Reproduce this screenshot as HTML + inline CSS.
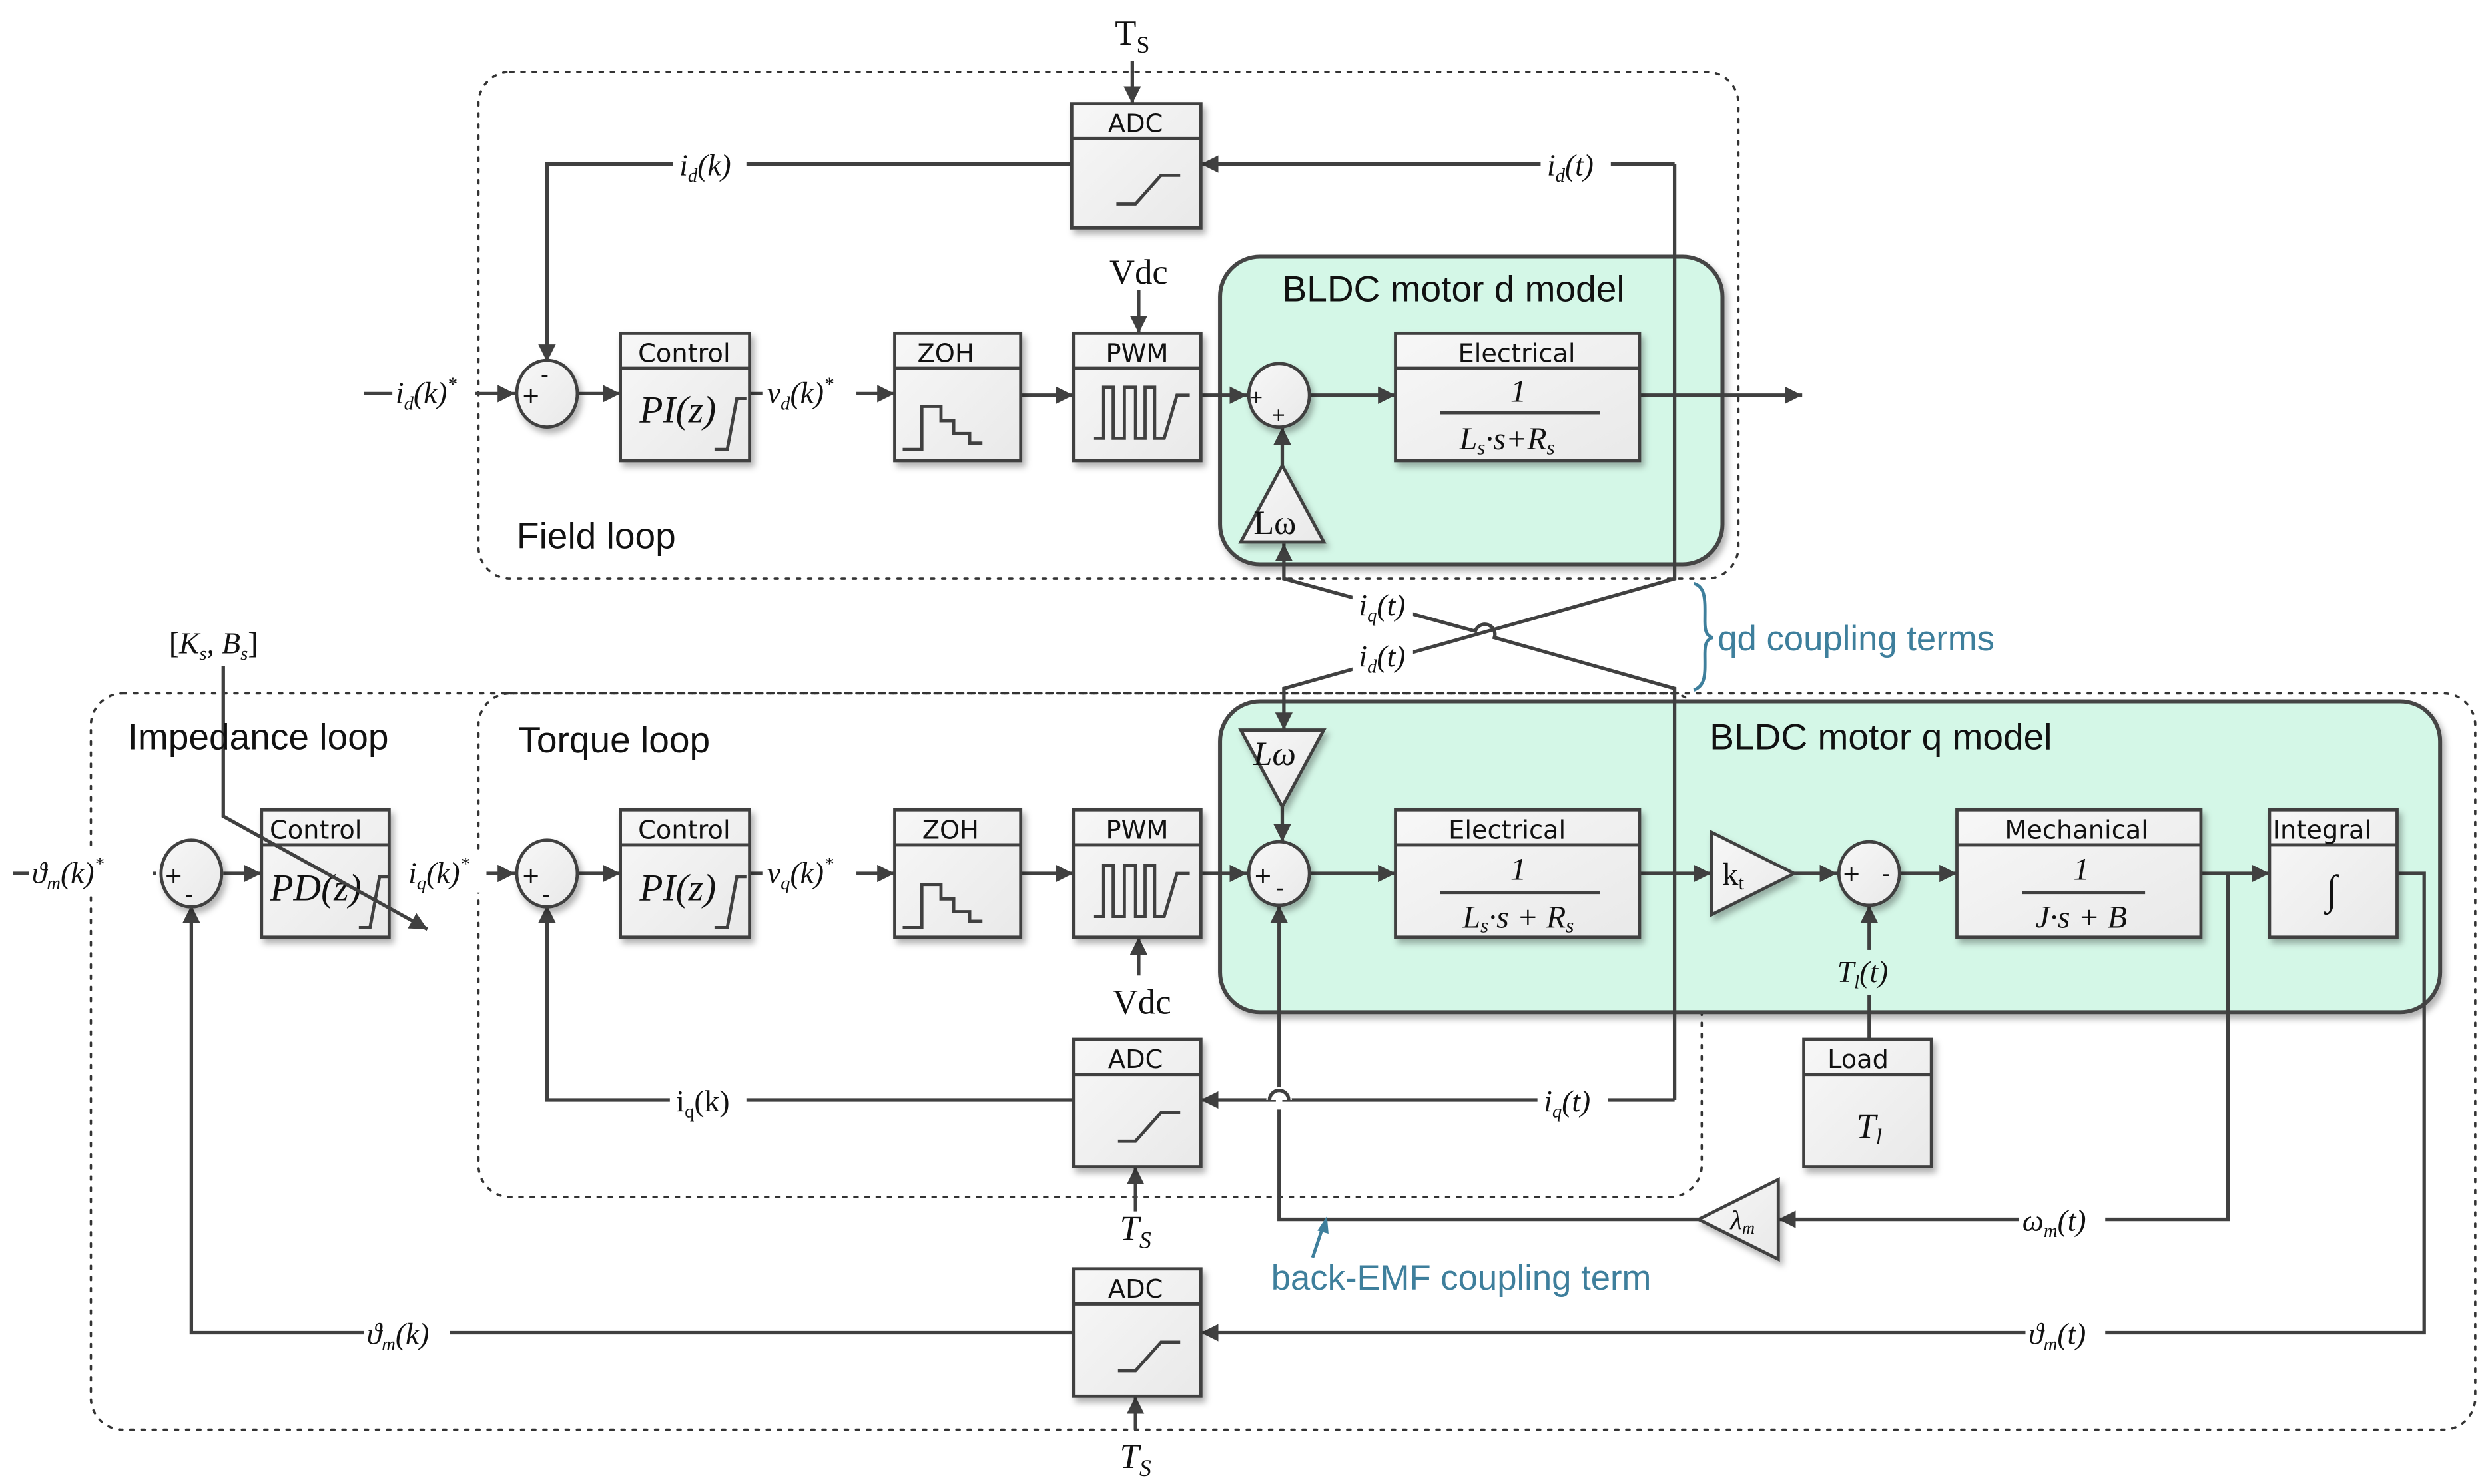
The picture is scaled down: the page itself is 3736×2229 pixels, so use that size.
<!DOCTYPE html>
<html><head><meta charset="utf-8"><style>
html,body{margin:0;padding:0;background:#fff;}
svg{display:block;}
.m{font-family:"Liberation Serif",serif;font-style:italic;}
.s{font-family:"DejaVu Sans","Liberation Sans",sans-serif;}
</style></head><body>
<svg width="3736" height="2229" viewBox="0 0 1560 931" preserveAspectRatio="none" xmlns="http://www.w3.org/2000/svg">
<defs>
<marker id="a" viewBox="0 0 10 10" refX="10" refY="5" markerWidth="5" markerHeight="5" orient="auto-start-reverse"><path d="M0,0L10,5L0,10z" fill="#404040"/></marker>
<linearGradient id="g" x1="0" y1="0" x2="1" y2="1"><stop offset="0" stop-color="#f7f7f7"/><stop offset="1" stop-color="#e9e9e9"/></linearGradient>
<filter id="sh" x="-20%" y="-20%" width="140%" height="140%"><feDropShadow dx="2" dy="3" stdDeviation="2" flood-color="#000" flood-opacity="0.3"/></filter>
</defs>
<g fill="none" stroke="#333" stroke-width="1.5" stroke-dasharray="2,5" stroke-linecap="round">
<rect x="300" y="45" width="790" height="318" rx="20"/>
<rect x="57" y="435" width="1495" height="462" rx="20"/>
<rect x="300" y="435" width="767" height="316" rx="20"/>
</g>
<rect x="765" y="161" width="315" height="193" rx="25" fill="#d4f7e7" stroke="#444" stroke-width="2.5" filter="url(#sh)"/>
<rect x="765" y="440" width="765" height="195" rx="25" fill="#d4f7e7" stroke="#444" stroke-width="2.5" filter="url(#sh)"/>

<g fill="none" stroke="#404040" stroke-width="2.2">
<path d="M1050,103H753" marker-end="url(#a)"/>
<path d="M672,103H343V227" marker-end="url(#a)"/>
<path d="M228,247H323" marker-end="url(#a)"/>
<path d="M363,247H389" marker-end="url(#a)"/>
<path d="M470,247H478M537,247H561" marker-end="url(#a)"/>
<path d="M640,248H673" marker-end="url(#a)"/>
<path d="M753,248H782" marker-end="url(#a)"/>
<path d="M822,248H875" marker-end="url(#a)"/>
<path d="M1028,248H1130" marker-end="url(#a)"/>
<path d="M710,38V65" marker-end="url(#a)"/>
<path d="M714,182V209" marker-end="url(#a)"/>
<path d="M804,292V268" marker-end="url(#a)"/>
<path d="M1050,103V363L805,432V458" marker-end="url(#a)"/>
<path d="M1050,690V432L937,400 A6,6 0 0 0 925,396 L805,363V341" marker-end="url(#a)"/>
<path d="M8,548H98" marker-end="url(#a)"/>
<path d="M140,548H164" marker-end="url(#a)"/>
<path d="M305,548H323" marker-end="url(#a)"/>
<path d="M363,548H389" marker-end="url(#a)"/>
<path d="M470,548H478M537,548H561" marker-end="url(#a)"/>
<path d="M640,548H673" marker-end="url(#a)"/>
<path d="M753,548H782" marker-end="url(#a)"/>
<path d="M804,506V528" marker-end="url(#a)"/>
<path d="M822,548H875" marker-end="url(#a)"/>
<path d="M1028,548H1073" marker-end="url(#a)"/>
<path d="M1125,548H1152" marker-end="url(#a)"/>
<path d="M1192,548H1227" marker-end="url(#a)"/>
<path d="M1380,548H1423" marker-end="url(#a)"/>
<path d="M1397,548V765H1115" marker-end="url(#a)"/>
<path d="M1065,765H802V568" marker-end="url(#a)"/>
<path d="M1172,652V568" marker-end="url(#a)"/>
<path d="M1050,690H753" marker-end="url(#a)"/>
<path d="M673,690H343V568" marker-end="url(#a)"/>
<path d="M1503,548H1520V836H753" marker-end="url(#a)"/>
<path d="M673,836H120V568" marker-end="url(#a)"/>
<path d="M714,612V588" marker-end="url(#a)"/>
<path d="M712,760V732" marker-end="url(#a)"/>
<path d="M712,897V876" marker-end="url(#a)"/>
</g>
<path d="M796,690A6,6 0 0 1 808,690" fill="#fff" stroke="#fff" stroke-width="4"/>
<path d="M802,684V696" stroke="#fff" stroke-width="4"/>
<path d="M796,690A6,6 0 0 1 808,690" fill="none" stroke="#404040" stroke-width="2.2"/>

<g fill="url(#g)" stroke="#404040" stroke-width="2" filter="url(#sh)">
<ellipse cx="343" cy="247" rx="19" ry="21"/>
<ellipse cx="802" cy="248" rx="19" ry="20"/>
<ellipse cx="120" cy="548" rx="19" ry="21"/>
<ellipse cx="343" cy="548" rx="19" ry="21"/>
<ellipse cx="802" cy="548" rx="19" ry="20"/>
<ellipse cx="1172" cy="548" rx="19" ry="20"/>
<path d="M778,340H830L804,292z"/>
<path d="M778,458H830L804,506z"/>
<path d="M1073,522V574L1125,548z"/>
<path d="M1115,740V790L1065,765z"/>
</g>
<g class="s" font-size="14" fill="#111">
<text x="327" y="253">+</text><text x="339" y="240">-</text>
<text x="783" y="253" font-size="11">+</text><text x="797" y="264" font-size="11">+</text>
<text x="103" y="554">+</text><text x="116" y="566">-</text>
<text x="327" y="554">+</text><text x="340" y="566">-</text>
<text x="786" y="554">+</text><text x="800" y="562">-</text>
<text x="1155" y="553">+</text><text x="1180" y="553">-</text>
</g>
<text x="786" y="335" font-family="Liberation Serif,serif" font-size="21" fill="#111">Lω</text>
<text x="786" y="480" class="m" font-size="21" fill="#111">Lω</text>
<text x="1080" y="555" font-family="Liberation Serif,serif" font-size="20" fill="#111">k<tspan font-size="13" dy="3">t</tspan></text>
<text x="1085" y="771" class="m" font-size="17" fill="#111">λ<tspan font-size="11" dy="3">m</tspan></text>

<g fill="url(#g)" stroke="#404040" stroke-width="2" filter="url(#sh)">
<rect x="672" y="65" width="81" height="78"/>
<rect x="389" y="209" width="81" height="80"/>
<rect x="561" y="209" width="79" height="80"/>
<rect x="673" y="209" width="80" height="80"/>
<rect x="875" y="209" width="153" height="80"/>
<rect x="164" y="508" width="80" height="80"/>
<rect x="389" y="508" width="81" height="80"/>
<rect x="561" y="508" width="79" height="80"/>
<rect x="673" y="508" width="80" height="80"/>
<rect x="875" y="508" width="153" height="80"/>
<rect x="1227" y="508" width="153" height="80"/>
<rect x="1423" y="508" width="80" height="80"/>
<rect x="1131" y="652" width="80" height="80"/>
<rect x="673" y="652" width="80" height="80"/>
<rect x="673" y="796" width="80" height="80"/>
</g>
<g stroke="#404040" stroke-width="2">
<path d="M672,87H753M389,231H470M561,231H640M673,231H753M875,231H1028M164,530H244M389,530H470M561,530H640M673,530H753M875,530H1028M1227,530H1380M1423,530H1503M1131,674H1211M673,674H753M673,818H753"/>
</g>
<g class="s" font-size="16" fill="#111" text-anchor="middle">
<text x="712" y="83">ADC</text><text x="429" y="227">Control</text><text x="593" y="227">ZOH</text><text x="713" y="227">PWM</text>
<text x="951" y="227">Electrical</text><text x="198" y="526">Control</text><text x="429" y="526">Control</text><text x="596" y="526">ZOH</text>
<text x="713" y="526">PWM</text><text x="945" y="526">Electrical</text><text x="1302" y="526">Mechanical</text><text x="1456" y="526">Integral</text>
<text x="1165" y="670">Load</text><text x="712" y="670">ADC</text><text x="712" y="814">ADC</text>
</g>
<g fill="none" stroke="#404040" stroke-width="2">
<path d="M700,128H712L728,110H740"/><path d="M701,716H712L728,698H740"/><path d="M701,860H712L728,842H740"/>
<path d="M448,282H456L462,250H468"/><path d="M448,582H456L462,550H468"/><path d="M225,582H232L238,550H244"/>
<path d="M566,282H578V255H590V264H598V272H608V278H616"/><path d="M566,582H578V555H590V564H598V572H608V578H616"/>
<path d="M686,275H692V243H698V275H705V243H712V275H718V243H724V275H730L738,248H746"/>
<path d="M686,575H692V543H698V575H705V543H712V575H718V543H724V575H730L738,548H746"/>
<path d="M903,259H1003M903,560H1003M1268,560H1345"/>
</g>
<g class="m" fill="#111" text-anchor="middle">
<text x="425" y="265" font-size="24">PI(z)</text><text x="425" y="565" font-size="24">PI(z)</text><text x="198" y="565" font-size="24">PD(z)</text>
<text x="952" y="252" font-size="20">1</text><text x="945" y="282" font-size="20">L<tspan font-size="13" dy="3">s</tspan><tspan dy="-3">·s+R</tspan><tspan font-size="13" dy="3">s</tspan></text>
<text x="952" y="552" font-size="20">1</text><text x="952" y="582" font-size="20">L<tspan font-size="13" dy="3">s</tspan><tspan dy="-3">·s + R</tspan><tspan font-size="13" dy="3">s</tspan></text>
<text x="1305" y="552" font-size="20">1</text><text x="1305" y="582" font-size="20">J·s + B</text>
<text x="1462" y="567" font-size="26">∫</text>
<text x="1172" y="714" font-size="22">T<tspan font-size="14" dy="4">l</tspan></text>
</g>
<path d="M140,418V512L268,583" fill="none" stroke="#404040" stroke-width="2.2" marker-end="url(#a)"/>
<g class="m" fill="#111" font-size="19">
<rect x="422" y="90" width="46" height="26" fill="#fff"/><text x="426" y="110">i<tspan font-size="12" dy="4">d</tspan><tspan dy="-4">(k)</tspan></text>
<rect x="966" y="90" width="44" height="26" fill="#fff"/><text x="970" y="110">i<tspan font-size="12" dy="4">d</tspan><tspan dy="-4">(t)</tspan></text>
<rect x="246" y="233" width="52" height="26" fill="#fff"/><text x="248" y="253">i<tspan font-size="12" dy="4">d</tspan><tspan dy="-4">(k)</tspan><tspan font-size="12" dy="-8">*</tspan></text>
<text x="481" y="253">v<tspan font-size="12" dy="4">d</tspan><tspan dy="-4">(k)</tspan><tspan font-size="12" dy="-8">*</tspan></text>
<text x="481" y="554">v<tspan font-size="12" dy="4">q</tspan><tspan dy="-4">(k)</tspan><tspan font-size="12" dy="-8">*</tspan></text>
<rect x="255" y="534" width="50" height="26" fill="#fff"/><text x="256" y="554">i<tspan font-size="12" dy="4">q</tspan><tspan dy="-4">(k)</tspan><tspan font-size="12" dy="-8">*</tspan></text>
<rect x="18" y="534" width="78" height="26" fill="#fff"/><text x="20" y="554">ϑ<tspan font-size="12" dy="4">m</tspan><tspan dy="-4">(k)</tspan><tspan font-size="12" dy="-8">*</tspan></text>
<rect x="848" y="366" width="38" height="24" fill="#fff"/><text x="852" y="386">i<tspan font-size="12" dy="4">q</tspan><tspan dy="-4">(t)</tspan></text>
<rect x="848" y="400" width="38" height="24" fill="#fff"/><text x="852" y="418">i<tspan font-size="12" dy="4">d</tspan><tspan dy="-4">(t)</tspan></text>
<rect x="420" y="677" width="48" height="26" fill="#fff"/><text x="424" y="697" font-style="normal">i<tspan font-size="12" dy="4">q</tspan><tspan dy="-4">(k)</tspan></text>
<rect x="964" y="677" width="44" height="26" fill="#fff"/><text x="968" y="697">i<tspan font-size="12" dy="4">q</tspan><tspan dy="-4">(t)</tspan></text>
<rect x="1266" y="752" width="54" height="26" fill="#fff"/><text x="1268" y="772">ω<tspan font-size="12" dy="4">m</tspan><tspan dy="-4">(t)</tspan></text>
<rect x="228" y="823" width="54" height="26" fill="#fff"/><text x="230" y="843">ϑ<tspan font-size="12" dy="4">m</tspan><tspan dy="-4">(k)</tspan></text>
<rect x="1270" y="823" width="50" height="26" fill="#fff"/><text x="1272" y="843">ϑ<tspan font-size="12" dy="4">m</tspan><tspan dy="-4">(t)</tspan></text>
<rect x="1150" y="596" width="46" height="28" fill="#d4f7e7" stroke="none"/><text x="1152" y="616">T<tspan font-size="12" dy="4">l</tspan><tspan dy="-4">(t)</tspan></text>
<text x="106" y="410" font-style="normal">[<tspan font-style="italic">K<tspan font-size="12" dy="4">s</tspan><tspan dy="-4">, B</tspan><tspan font-size="12" dy="4">s</tspan></tspan><tspan dy="-4">]</tspan></text>
</g>
<g font-family="Liberation Serif,serif" fill="#111" font-size="22" text-anchor="middle">
<text x="710" y="28">T<tspan font-size="15" dy="5">S</tspan></text>
<text x="714" y="178">Vdc</text>
<text x="716" y="636">Vdc</text>
<text x="712" y="778" font-style="italic">T<tspan font-size="15" dy="5">S</tspan></text>
<text x="712" y="921" font-style="italic">T<tspan font-size="15" dy="5">S</tspan></text>
</g>
<g font-family="Liberation Sans,sans-serif" fill="#111" font-size="23">
<text x="804" y="189">BLDC motor d model</text>
<text x="324" y="344">Field loop</text>
<text x="80" y="470">Impedance loop</text>
<text x="325" y="472">Torque loop</text>
<text x="1072" y="470">BLDC motor q model</text>
</g>
<g font-family="Liberation Sans,sans-serif" fill="#3e7f9c" font-size="22">
<text x="1077" y="408">qd coupling terms</text>
<text x="797" y="809">back-EMF coupling term</text>
</g>
<path d="M1062,366C1070,368 1069,378 1069,390C1069,396 1070,399 1074,400C1070,401 1069,404 1069,410C1069,422 1070,430 1062,433" fill="none" stroke="#3e7f9c" stroke-width="2"/>
<path d="M823,789L830,768" fill="none" stroke="#3e7f9c" stroke-width="2"/>
<path d="M826,772L832,763L833,774z" fill="#3e7f9c"/>
</svg>
</body></html>
